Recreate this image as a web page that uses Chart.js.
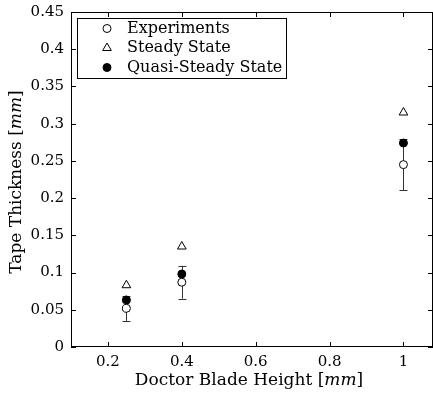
<!DOCTYPE html>
<html>
<head>
<meta charset="utf-8">
<script src="https://cdn.jsdelivr.net/npm/chart.js@4"></script>
<style>
  html, body { margin: 0; padding: 0; background: #fff; }
  #wrap { width: 433px; height: 394px; }
</style>
</head>
<body>
<div id="wrap"><canvas id="thicknessChart" width="433" height="394"></canvas></div>
<script>
// values
const bladeHeights = [0.25, 0.4, 1.0];
const experiments = [0.052, 0.087, 0.245];
const experimentErr = [0.017, 0.022, 0.034];
const steadyState = [0.083, 0.135, 0.315];
const quasiSteady = [0.063, 0.098, 0.274];
const xTicks = [0.2, 0.4, 0.6, 0.8, 1];
const yTicks = [0, 0.05, 0.1, 0.15, 0.2, 0.25, 0.3, 0.35, 0.4, 0.45];

const FONT = '"DejaVu Serif", "Liberation Serif", serif';
const FS = 15;

function pts(ys) {
  return bladeHeights.map((x, i) => ({ x: x, y: ys[i] }));
}

function noMargins(s) {
  s.paddingLeft = 0; s.paddingRight = 0; s.paddingTop = 0; s.paddingBottom = 0;
}

// error bars on the experiment series, drawn through the scales
const errorBars = {
  id: 'errorBars',
  beforeDatasetsDraw(chart) {
    const { ctx, scales: { x, y } } = chart;
    ctx.save();
    ctx.strokeStyle = '#333';
    ctx.lineWidth = 1;
    bladeHeights.forEach((bh, i) => {
      const px = Math.round(x.getPixelForValue(bh)) + 0.5;
      const lo = y.getPixelForValue(experiments[i] - experimentErr[i]);
      const hi = y.getPixelForValue(experiments[i] + experimentErr[i]);
      ctx.beginPath();
      ctx.moveTo(px, lo); ctx.lineTo(px, hi);
      ctx.moveTo(px - 4, Math.round(lo) + 0.5); ctx.lineTo(px + 4, Math.round(lo) + 0.5);
      ctx.moveTo(px - 4, Math.round(hi) + 0.5); ctx.lineTo(px + 4, Math.round(hi) + 0.5);
      ctx.stroke();
    });
    ctx.restore();
  }
};

// box, inward ticks on all four sides, axis titles, legend
const frame = {
  id: 'frame',
  afterDraw(chart) {
    const { ctx, chartArea: a, scales: { x, y } } = chart;
    ctx.save();
    ctx.strokeStyle = '#000';
    ctx.lineWidth = 1;
    ctx.strokeRect(a.left + 0.5, a.top + 0.5, a.right - a.left - 1, a.bottom - a.top - 1);
    ctx.beginPath();
    const t = 5;
    xTicks.forEach(v => {
      const px = Math.round(x.getPixelForValue(v)) + 0.5;
      ctx.moveTo(px, a.bottom); ctx.lineTo(px, a.bottom - t);
      ctx.moveTo(px, a.top); ctx.lineTo(px, a.top + t);
    });
    yTicks.forEach(v => {
      const py = Math.round(y.getPixelForValue(v)) + 0.5;
      ctx.moveTo(a.left, py); ctx.lineTo(a.left + t, py);
      ctx.moveTo(a.right, py); ctx.lineTo(a.right - t, py);
    });
    ctx.stroke();

    // axis titles with italic unit
    ctx.fillStyle = '#000';
    ctx.textBaseline = 'middle';
    function mixed(parts, cx, cy, size) {
      let w = 0;
      parts.forEach(p => { ctx.font = p[1] + ' ' + size + 'px ' + FONT; w += ctx.measureText(p[0]).width; });
      let cur = cx - w / 2;
      ctx.textAlign = 'left';
      parts.forEach(p => {
        ctx.font = p[1] + ' ' + size + 'px ' + FONT;
        ctx.fillText(p[0], cur, cy);
        cur += ctx.measureText(p[0]).width;
      });
    }
    mixed([['Doctor Blade Height [', 'normal'], ['mm', 'italic'], [']', 'normal']], 249, 381, 17);
    ctx.save();
    ctx.translate(17, 182);
    ctx.rotate(-Math.PI / 2);
    mixed([['Tape Thickness [', 'normal'], ['mm', 'italic'], [']', 'normal']], 0, 0, 17);
    ctx.restore();

    // legend
    ctx.fillStyle = '#fff';
    ctx.fillRect(77.5, 18.5, 209, 60);
    ctx.strokeRect(77.5, 18.5, 209, 60);
    chart.data.datasets.forEach((ds, i) => {
      const cy = 28.5 + i * 19.5;
      ctx.strokeStyle = '#000';
      ctx.fillStyle = ds.backgroundColor;
      Chart.helpers.drawPoint(ctx, { pointStyle: ds.pointStyle, radius: ds.pointRadius, borderWidth: 1, rotation: 0 }, 107, cy);
      ctx.fillStyle = '#000';
      ctx.font = '16px ' + FONT;
      ctx.textAlign = 'left';
      ctx.fillText(ds.label, 127, cy);
    });
    ctx.restore();
  }
};

new Chart(document.getElementById('thicknessChart'), {
  type: 'scatter',
  data: {
    datasets: [
      { label: 'Experiments', data: pts(experiments), pointStyle: 'circle', pointRadius: 4,
        borderColor: '#000', backgroundColor: '#fff', borderWidth: 1 },
      { label: 'Steady State', data: pts(steadyState), pointStyle: 'triangle', pointRadius: 5,
        borderColor: '#000', backgroundColor: '#fff', borderWidth: 1 },
      { label: 'Quasi-Steady State', data: pts(quasiSteady), pointStyle: 'circle', pointRadius: 4,
        borderColor: '#000', backgroundColor: '#000', borderWidth: 1 }
    ]
  },
  options: {
    responsive: false,
    animation: false,
    layout: { autoPadding: false, padding: { top: 12, right: 0, left: 0, bottom: 0 } },
    plugins: { legend: { display: false }, tooltip: { enabled: false } },
    scales: {
      x: {
        type: 'linear', min: 0.1, max: 1.08,
        afterBuildTicks: s => { s.ticks = xTicks.map(v => ({ value: v })); },
        afterFit: s => { s.height = 47; noMargins(s); },
        grid: { display: false, drawTicks: false },
        border: { display: false },
        ticks: { color: '#000', font: { family: FONT, size: FS }, padding: 6,
          maxRotation: 0, callback: v => String(v) }
      },
      y: {
        type: 'linear', min: 0, max: 0.45,
        afterBuildTicks: s => { s.ticks = yTicks.map(v => ({ value: v })); },
        afterFit: s => { s.width = 71; noMargins(s); },
        grid: { display: false, drawTicks: false },
        border: { display: false },
        ticks: { color: '#000', font: { family: FONT, size: FS }, padding: 7,
          callback: v => String(Number(v.toFixed(2))) }
      }
    }
  },
  plugins: [errorBars, frame]
});
</script>
</body>
</html>
